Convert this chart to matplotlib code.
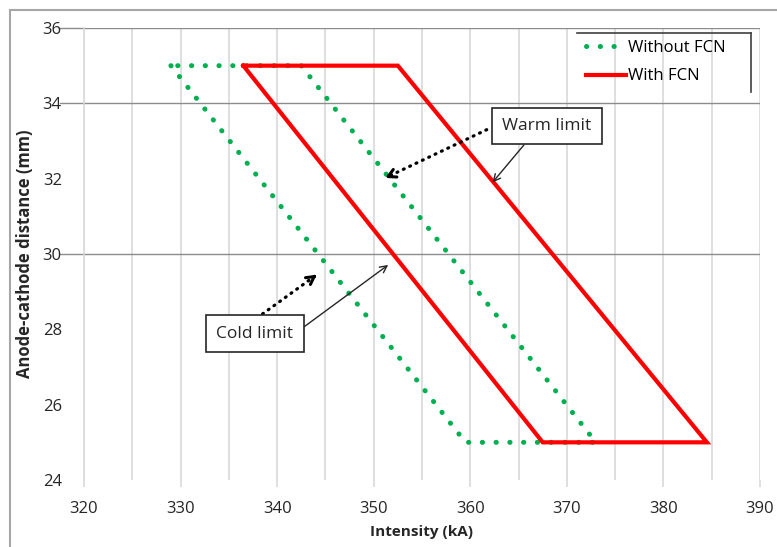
import matplotlib
matplotlib.use("Agg")
import matplotlib.pyplot as plt
from matplotlib.lines import Line2D

plt.rcParams['font.family'] = ['Open Sans', 'DejaVu Sans']

# Data
without_fcn_x = [329.0, 359.5, 373.0, 342.5, 329.0]
without_fcn_y = [35, 25, 25, 35, 35]
with_fcn_x = [336.5, 367.5, 384.5, 352.5, 336.5]
with_fcn_y = [35, 25, 25, 35, 35]
x_ticks = [320, 330, 340, 350, 360, 370, 380, 390]
y_ticks = [24, 26, 28, 30, 32, 34, 36]
labels = ["Without FCN", "With FCN"]

W, H = 777, 547
fig = plt.figure(figsize=(W / 100, H / 100), dpi=100)
ax = fig.add_axes([84 / W, 1 - 480 / H, (760 - 84) / W, (480 - 28) / H])

# chart border (top/left)
fig.add_artist(Line2D([10 / W, 10 / W], [0, 1 - 10 / H], transform=fig.transFigure, color="#a6a6a6", lw=1.5))
fig.add_artist(Line2D([10 / W, 1], [1 - 10 / H, 1 - 10 / H], transform=fig.transFigure, color="#a6a6a6", lw=1.5))

ax.set_xlim(320, 390)
ax.set_ylim(24, 36)

# vertical minor grid
for xv in range(320, 391, 5):
    ax.axvline(xv, color="#d9d9d9", lw=1.2, zorder=0)
for yv in [36, 34, 30]:
    ax.axhline(yv, color="#8c8c8c", lw=1.0, zorder=0)
    ax.plot([317.5, 320], [yv, yv], color="#8c8c8c", lw=1.0, clip_on=False, zorder=0)

ax.plot(without_fcn_x, without_fcn_y, color="#00B050", lw=3.6, linestyle=(0, (0.05, 2.7)),
        dash_capstyle="round", solid_capstyle="round", label=labels[0], zorder=3)
ax.plot(with_fcn_x, with_fcn_y, color="#FF0000", lw=3.0, label=labels[1], zorder=4,
        solid_joinstyle="miter")

for s in ax.spines.values():
    s.set_visible(False)
ax.spines['left'].set_visible(True)
ax.spines['left'].set_color("#d9d9d9")
ax.spines['left'].set_linewidth(1.2)

ax.set_xticks(x_ticks)
ax.set_yticks(y_ticks)
ax.tick_params(axis='x', length=5, color="#d9d9d9", width=1.2, labelsize=12, pad=10, labelcolor="#262626")
ax.tick_params(axis='y', length=0, labelsize=12, pad=16, labelcolor="#262626")
ax.set_xlabel("Intensity (kA)", fontsize=11, fontweight="bold", labelpad=6, color="#262626")
ax.set_ylabel("Anode-cathode distance (mm)", fontsize=12, fontweight="bold", labelpad=6, color="#262626")

# legend
leg = ax.legend(loc="upper left", bbox_to_anchor=(586 / W, 1 - 40 / H), bbox_transform=fig.transFigure,
                frameon=False, fontsize=12, handlelength=2.4, handletextpad=0.1, labelspacing=0.75,
                borderaxespad=0, borderpad=0)
fig.add_artist(Line2D([577 / W, 751 / W], [1 - 33 / H, 1 - 33 / H], transform=fig.transFigure, color="#404040", lw=1.2))
fig.add_artist(Line2D([751 / W, 751 / W], [1 - 33 / H, 1 - 92 / H], transform=fig.transFigure, color="#404040", lw=1.2))

bbox = dict(boxstyle="square,pad=0.6", fc="white", ec="#262626", lw=1.2)


def dotted_arrow(tip, start):
    ax.annotate("", xy=tip, xytext=start, zorder=5,
                arrowprops=dict(arrowstyle="-", color="black", lw=2.3,
                                linestyle=(0, (0.3, 1.9)), capstyle="round", shrinkA=0, shrinkB=2))
    fx = tip[0] - (tip[0] - start[0]) * 0.06
    fy = tip[1] - (tip[1] - start[1]) * 0.06
    ax.annotate("", xy=tip, xytext=(fx, fy), zorder=5,
                arrowprops=dict(arrowstyle="->,head_length=0.55,head_width=0.3", color="black", lw=2.2,
                                shrinkA=0, shrinkB=0))


# Warm limit
ax.annotate("Warm limit", xy=(362.3, 31.9), xytext=(367.9, 33.4), fontsize=12.5, color="#262626",
            ha="center", va="center", bbox=bbox, zorder=6,
            arrowprops=dict(arrowstyle="->", color="#262626", lw=1.0, shrinkA=0, shrinkB=0,
                            relpos=(0.35, 0.0)))
dotted_arrow((351.2, 32.02), (361.7, 33.3))

# Cold limit
ax.annotate("Cold limit", xy=(351.5, 29.71), xytext=(337.7, 27.88), fontsize=12.5, color="#262626",
            ha="center", va="center", bbox=bbox, zorder=6,
            arrowprops=dict(arrowstyle="->", color="#262626", lw=1.0, shrinkA=0, shrinkB=0,
                            relpos=(1.0, 0.45)))
dotted_arrow((344.1, 29.45), (337.9, 28.3))

fig.savefig("out.png", dpi=100)
